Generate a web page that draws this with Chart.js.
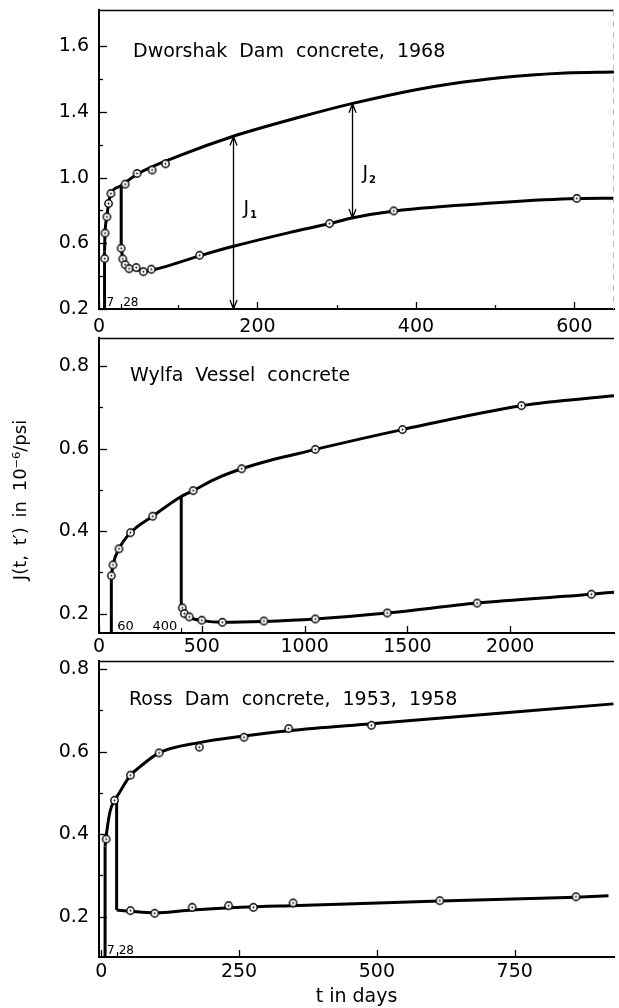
<!DOCTYPE html>
<html>
<head>
<meta charset="utf-8">
<title>Creep and recovery of dam and vessel concretes</title>
<script src="https://cdn.jsdelivr.net/npm/chart.js@4/dist/chart.umd.min.js"></script>
<style>
  body { margin: 0; background: #fff; }
  #wrap { position: relative; width: 619px; height: 1008px; }
  #wrap canvas { position: absolute; left: 0; }
</style>
</head>
<body>
<div id="wrap">
  <canvas id="dworshak" width="619" height="333" style="top:0"></canvas>
  <canvas id="wylfa" width="619" height="323" style="top:333px"></canvas>
  <canvas id="ross" width="619" height="352" style="top:656px"></canvas>
</div>
<script>
"use strict";

// ---- Dworshak Dam concrete, 1968 (loaded at 7 days, unloaded at 28) ----
const dworshakAges = [7, 28];
const dworshakCreepT = [7, 7.6, 10, 12, 15, 28, 48, 100, 168.5, 255, 319, 400, 443, 506, 589, 650];
const dworshakCreepJ = [0.55, 0.66, 0.76, 0.84, 0.9, 0.95, 1.02, 1.13, 1.25, 1.37, 1.45, 1.535, 1.57, 1.608, 1.636, 1.642];
const dworshakCreepPtsT = [7.1, 7.6, 10, 12, 15, 33, 48, 67, 84];
const dworshakCreepPtsJ = [0.507, 0.662, 0.761, 0.842, 0.903, 0.96, 1.025, 1.046, 1.084];
const dworshakRecovT = [28, 30, 34, 40, 50, 60, 70, 128, 168.5, 240, 291, 319, 373, 506, 603, 650];
const dworshakRecovJ = [0.575, 0.51, 0.47, 0.448, 0.437, 0.432, 0.44, 0.525, 0.58, 0.665, 0.72, 0.754, 0.797, 0.848, 0.872, 0.874];
const dworshakRecovPtsT = [28, 30, 33, 38, 47, 56, 66, 127, 291, 372, 603];
const dworshakRecovPtsJ = [0.57, 0.505, 0.47, 0.445, 0.452, 0.427, 0.442, 0.527, 0.72, 0.797, 0.873];
const dworshakXRange = [0, 650];
const dworshakYRange = [0.2, 2.02];
const dworshakXTicks = [0, 200, 400, 600];
const dworshakXMinor = [100, 300, 500];
const dworshakYTicks = [0.2, 0.6, 1.0, 1.4, 1.8];
const dworshakYLabels = ['0.2', '0.6', '1.0', '1.4', '1.6'];
const dworshakYMinor = [0.4, 0.8, 1.2, 1.6];

// ---- Wylfa Vessel concrete (loaded at 60 days, unloaded at 400) ----
const wylfaAges = [60, 400];
const wylfaCreepT = [60, 68, 97, 153, 261, 400, 458, 560, 694, 830, 971, 1052, 1476, 2055, 2505];
const wylfaCreepJ = [0.29, 0.318, 0.357, 0.396, 0.436, 0.484, 0.498, 0.525, 0.551, 0.571, 0.588, 0.598, 0.646, 0.704, 0.728];
const wylfaCreepPtsT = [60, 68, 97, 153, 261, 458, 694, 1052, 1476, 2055];
const wylfaCreepPtsJ = [0.292, 0.318, 0.357, 0.396, 0.436, 0.498, 0.551, 0.598, 0.646, 0.704];
const wylfaRecovT = [400, 410, 440, 500, 600, 800, 1052, 1402, 1839, 2395, 2505];
const wylfaRecovJ = [0.216, 0.2, 0.19, 0.183, 0.179, 0.181, 0.187, 0.2015, 0.2255, 0.247, 0.252];
const wylfaRecovPtsT = [405, 415, 439, 500, 600, 802, 1052, 1402, 1839, 2395];
const wylfaRecovPtsJ = [0.214, 0.2, 0.192, 0.184, 0.179, 0.182, 0.187, 0.2015, 0.2255, 0.247];
const wylfaXRange = [0, 2505];
const wylfaYRange = [0.153, 0.868];
const wylfaXTicks = [0, 500, 1000, 1500, 2000];
const wylfaYTicks = [0.2, 0.4, 0.6, 0.8];
const wylfaYMinor = [0.3, 0.5, 0.7];

// ---- Ross Dam concrete, 1953, 1958 (loaded at 7 days, unloaded at 28) ----
const rossAges = [7, 28];
const rossCreepT = [7, 9, 16, 24, 28, 34, 53, 70, 105, 178, 259, 340, 490, 929];
const rossCreepJ = [0.37, 0.395, 0.455, 0.482, 0.49, 0.503, 0.543, 0.563, 0.597, 0.622, 0.638, 0.651, 0.668, 0.716];
const rossCreepPtsT = [9, 24, 53, 105, 178, 259, 340, 490];
const rossCreepPtsJ = [0.388, 0.482, 0.543, 0.597, 0.611, 0.635, 0.656, 0.664];
const rossRecovT = [28, 53, 97, 165, 253, 358, 614, 861, 920];
const rossRecovJ = [0.216, 0.213, 0.209, 0.216, 0.2225, 0.227, 0.238, 0.247, 0.2505];
const rossRecovPtsT = [53, 97, 165, 231, 276, 348, 614, 861];
const rossRecovPtsJ = [0.2144, 0.208, 0.2224, 0.2265, 0.2224, 0.233, 0.2385, 0.248];
const rossXRange = [-4, 930];
const rossYRange = [0.102, 0.82];
const rossXTicks = [0, 250, 500, 750];
const rossYTicks = [0.2, 0.4, 0.6, 0.8];
const rossYMinor = [0.3, 0.5, 0.7];

const FONT = "'DejaVu Sans', 'Liberation Sans', sans-serif";
Chart.defaults.font.family = FONT;
Chart.defaults.color = '#000';

// open circle with a dot in the middle, used for the test points
const ring = (() => {
  const c = document.createElement('canvas');
  c.width = c.height = 11;
  const g = c.getContext('2d');
  g.beginPath();
  g.arc(5.5, 5.5, 3.7, 0, Math.PI * 2);
  g.fillStyle = '#fff';
  g.fill();
  g.lineWidth = 1.4;
  g.strokeStyle = '#000';
  g.stroke();
  g.beginPath();
  g.arc(5.5, 5.5, 0.9, 0, Math.PI * 2);
  g.fillStyle = '#000';
  g.fill();
  return c;
})();

const xy = (ts, js) => ts.map((t, i) => ({ x: t, y: js[i] }));

function curve(ts, js) {
  return { data: xy(ts, js), showLine: true, borderColor: '#000', borderWidth: 3,
           pointRadius: 0, cubicInterpolationMode: 'monotone', order: 2 };
}
function riser(t, j0, j1) {
  return { data: [{ x: t, y: j0 }, { x: t, y: j1 }], showLine: true, borderColor: '#000',
           borderWidth: 3, pointRadius: 0, order: 2 };
}
function marks(ts, js) {
  return { data: xy(ts, js), showLine: false, pointStyle: ring, pointRadius: 4, order: 1 };
}

// frame, inward ticks, panel title, age labels and arrows
const panelDecor = {
  id: 'panelDecor',
  afterDatasetsDraw(chart, args, o) {
    const { ctx, chartArea: a, scales: { x, y } } = chart;
    ctx.save();
    ctx.strokeStyle = '#000';
    ctx.fillStyle = '#000';

    ctx.lineWidth = 1.5;
    ctx.beginPath();
    ctx.moveTo(a.left, a.top + 0.5);
    ctx.lineTo(a.right, a.top + 0.5);
    ctx.stroke();

    if (o.rightEdge) {
      ctx.strokeStyle = '#bbb';
      ctx.lineWidth = 1;
      ctx.setLineDash([6, 5]);
      ctx.beginPath();
      ctx.moveTo(a.right - 0.5, a.top);
      ctx.lineTo(a.right - 0.5, a.bottom);
      ctx.stroke();
      ctx.setLineDash([]);
      ctx.strokeStyle = '#000';
    }

    ctx.lineWidth = 1.3;
    const tick = (scale, vals, len) => vals.forEach(v => {
      const p = Math.round(scale.getPixelForValue(v)) + 0.5;
      ctx.beginPath();
      if (scale === x) { ctx.moveTo(p, a.bottom); ctx.lineTo(p, a.bottom - len); }
      else { ctx.moveTo(a.left, p); ctx.lineTo(a.left + len, p); }
      ctx.stroke();
    });
    tick(x, o.xMajor, 7);
    tick(x, o.xMinor || [], 4);
    tick(y, o.yMajor, 8);
    tick(y, o.yMinor || [], 4);

    // panel title
    ctx.font = '19px ' + FONT;
    if ('wordSpacing' in ctx) ctx.wordSpacing = o.title.spacing + 'px';
    ctx.textAlign = 'left';
    ctx.textBaseline = 'alphabetic';
    ctx.fillText(o.title.text, a.left + o.title.dx, a.top + o.title.dy);
    if ('wordSpacing' in ctx) ctx.wordSpacing = '0px';

    // ages at loading / unloading, along the time axis
    ctx.font = o.ageFont + 'px ' + FONT;
    o.ages.forEach(g => {
      const px = x.getPixelForValue(g.t);
      if (g.tick) {
        ctx.lineWidth = 1.2;
        ctx.beginPath();
        ctx.moveTo(Math.round(px) + 0.5, a.bottom);
        ctx.lineTo(Math.round(px) + 0.5, a.bottom - 5);
        ctx.stroke();
      }
      ctx.textAlign = g.dx < 0 ? 'right' : 'left';
      ctx.fillText(String(g.t), px + g.dx, a.bottom - 3);
    });

    // double-headed arrows with J labels
    (o.arrows || []).forEach(ar => {
      const px = Math.round(x.getPixelForValue(ar.t)) + 0.5;
      const y0 = y.getPixelForValue(ar.from);
      const y1 = y.getPixelForValue(ar.to);
      ctx.lineWidth = 1.3;
      ctx.beginPath();
      ctx.moveTo(px, y0);
      ctx.lineTo(px, y1);
      ctx.moveTo(px - 3.5, y0 + 9); ctx.lineTo(px, y0); ctx.lineTo(px + 3.5, y0 + 9);
      ctx.moveTo(px - 3.5, y1 - 9); ctx.lineTo(px, y1); ctx.lineTo(px + 3.5, y1 - 9);
      ctx.stroke();
      const ly = y.getPixelForValue(ar.labelJ);
      ctx.textAlign = 'left';
      ctx.font = '19px ' + FONT;
      ctx.fillText(ar.label, px + 10, ly);
      const w = ctx.measureText(ar.label).width;
      ctx.font = 'bold 10px ' + FONT;
      ctx.fillText(ar.sub, px + 11 + w, ly + 4);
    });

    // shared vertical axis title
    if (o.yTitle) {
      ctx.save();
      ctx.translate(o.yTitle.x, o.yTitle.y);
      ctx.rotate(-Math.PI / 2);
      ctx.font = '18px ' + FONT;
      if ('wordSpacing' in ctx) ctx.wordSpacing = '4px';
      ctx.textAlign = 'center';
      ctx.textBaseline = 'middle';
      ctx.fillText(o.yTitle.text, 0, 0);
      ctx.restore();
    }
    ctx.restore();
  }
};

function makeChart(id, p) {
  return new Chart(document.getElementById(id), {
    type: 'scatter',
    data: { datasets: p.datasets },
    options: {
      responsive: false,
      animation: false,
      events: [],
      layout: { padding: { top: p.padTop, right: 2, left: 0, bottom: 0 } },
      plugins: {
        legend: { display: false },
        tooltip: { enabled: false },
        panelDecor: p.decor
      },
      scales: {
        x: {
          type: 'linear',
          min: p.xRange[0],
          max: p.xRange[1],
          grid: { display: false, drawTicks: false },
          border: { display: true, color: '#000', width: 2 },
          ticks: { padding: p.xPad, font: { size: 19 }, maxRotation: 0, autoSkip: false,
                   callback: v => String(v) },
          afterBuildTicks: ax => { ax.ticks = p.xTicks.map(v => ({ value: v })); },
          afterFit: ax => { ax.height = p.xHeight; ax.paddingLeft = 0; ax.paddingRight = 0; },
          title: p.xTitle || { display: false }
        },
        y: {
          type: 'linear',
          min: p.yRange[0],
          max: p.yRange[1],
          grid: { display: false, drawTicks: false },
          border: { display: true, color: '#000', width: 2 },
          ticks: { padding: 10, font: { size: 19 }, autoSkip: false,
                   callback: (v, i) => p.yLabels ? p.yLabels[i] : v.toFixed(1) },
          afterBuildTicks: ax => { ax.ticks = p.yTicks.map(v => ({ value: v })); },
          afterFit: ax => { ax.width = 99; ax.paddingTop = 0; ax.paddingBottom = 0; }
        }
      }
    },
    plugins: [panelDecor]
  });
}

const at = (ts, js, t) => js[ts.indexOf(t)];

makeChart('dworshak', {
  padTop: 10, xHeight: 24, xPad: 7,
  xRange: dworshakXRange, yRange: dworshakYRange,
  xTicks: dworshakXTicks, yTicks: dworshakYTicks, yLabels: dworshakYLabels,
  datasets: [
    marks(dworshakCreepPtsT, dworshakCreepPtsJ),
    marks(dworshakRecovPtsT, dworshakRecovPtsJ),
    riser(dworshakAges[0], dworshakYRange[0], dworshakCreepJ[0]),
    curve(dworshakCreepT, dworshakCreepJ),
    riser(dworshakAges[1], at(dworshakCreepT, dworshakCreepJ, dworshakAges[1]), dworshakRecovJ[0]),
    curve(dworshakRecovT, dworshakRecovJ)
  ],
  decor: {
    xMajor: dworshakXTicks, xMinor: dworshakXMinor,
    yMajor: dworshakYTicks, yMinor: dworshakYMinor,
    rightEdge: true,
    title: { text: 'Dworshak Dam concrete, 1968', dx: 34, dy: 47, spacing: 6 },
    ageFont: 12,
    ages: [{ t: dworshakAges[0], dx: 2 }, { t: dworshakAges[1], dx: 2, tick: true }],
    arrows: [
      { t: 168.5, from: 1.25, to: 0.2, label: 'J', sub: '1', labelJ: 0.78 },
      { t: 319, from: 1.45, to: 0.754, label: 'J', sub: '2', labelJ: 0.99 }
    ]
  }
});

makeChart('wylfa', {
  padTop: 2, xHeight: 23, xPad: 3,
  xRange: wylfaXRange, yRange: wylfaYRange,
  xTicks: wylfaXTicks, yTicks: wylfaYTicks,
  datasets: [
    marks(wylfaCreepPtsT, wylfaCreepPtsJ),
    marks(wylfaRecovPtsT, wylfaRecovPtsJ),
    riser(wylfaAges[0], wylfaYRange[0], wylfaCreepJ[0]),
    curve(wylfaCreepT, wylfaCreepJ),
    riser(wylfaAges[1], at(wylfaCreepT, wylfaCreepJ, wylfaAges[1]), wylfaRecovJ[0]),
    curve(wylfaRecovT, wylfaRecovJ)
  ],
  decor: {
    xMajor: wylfaXTicks, yMajor: wylfaYTicks, yMinor: wylfaYMinor,
    title: { text: 'Wylfa Vessel concrete', dx: 31, dy: 43, spacing: 6 },
    ageFont: 13,
    ages: [{ t: wylfaAges[0], dx: 6 }, { t: wylfaAges[1], dx: -4, tick: true }],
    yTitle: { text: 'J(t, t\u2032) in 10\u207B\u2076/psi', x: 21, y: 167 }
  }
});

makeChart('ross', {
  padTop: 2, xHeight: 51, xPad: 4,
  xRange: rossXRange, yRange: rossYRange,
  xTicks: rossXTicks, yTicks: rossYTicks,
  xTitle: { display: true, text: 't in days', font: { size: 19 }, padding: { top: 0, bottom: 0 } },
  datasets: [
    marks(rossCreepPtsT, rossCreepPtsJ),
    marks(rossRecovPtsT, rossRecovPtsJ),
    riser(rossAges[0], rossYRange[0], rossCreepJ[0]),
    curve(rossCreepT, rossCreepJ),
    riser(rossAges[1], at(rossCreepT, rossCreepJ, rossAges[1]), rossRecovJ[0]),
    curve(rossRecovT, rossRecovJ)
  ],
  decor: {
    xMajor: rossXTicks, yMajor: rossYTicks, yMinor: rossYMinor,
    title: { text: 'Ross Dam concrete, 1953, 1958', dx: 30, dy: 44, spacing: 6 },
    ageFont: 12,
    ages: [{ t: rossAges[0], dx: 2 }, { t: rossAges[1], dx: 2, tick: true }]
  }
});
</script>
</body>
</html>
